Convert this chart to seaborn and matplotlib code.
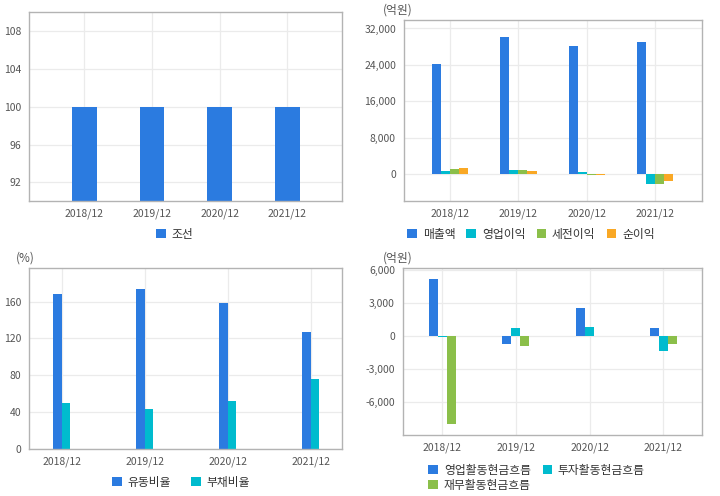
import pandas as pd
import seaborn as sns
import matplotlib.pyplot as plt
from matplotlib.ticker import FuncFormatter

# values
years = ["2018/12", "2019/12", "2020/12", "2021/12"]

industry = [100, 100, 100, 100]  # 조선

sales = [24200, 30100, 28100, 29000]        # 매출액
op_profit = [660, 880, 440, -2200]          # 영업이익
pretax_profit = [1100, 820, -120, -2200]    # 세전이익
net_profit = [1300, 600, -120, -1540]       # 순이익

current_ratio = [168, 174, 158, 127]        # 유동비율
debt_ratio = [50, 44, 52, 76]               # 부채비율

cf_operating = [5200, -730, 2570, 730]      # 영업활동현금흐름
cf_investing = [-100, 730, 820, -1360]      # 투자활동현금흐름
cf_financing = [-7950, -900, 0, -730]       # 재무활동현금흐름

BLUE = "#2b7be0"
TEAL = "#00bbce"
GREEN = "#8bbf4a"
ORANGE = "#f9a825"

sns.set_theme(style="whitegrid")
plt.rcParams["font.family"] = ["Noto Sans CJK KR", "DejaVu Sans"]
plt.rcParams["axes.unicode_minus"] = False


def long_form(series):
    rows = []
    for name, vals in series.items():
        for y, v in zip(years, vals):
            rows.append({"year": y, "series": name, "value": v})
    return pd.DataFrame(rows)


def add_axes(fig, x0, y0, x1, y1):
    # pixel box (top-left origin) -> figure fractions
    W, H = 720, 496
    return fig.add_axes([x0 / W, 1 - y1 / H, (x1 - x0) / W, (y1 - y0) / H])


def style(ax, yticks, ylim, xlim, comma=False):
    ax.set_ylim(*ylim)
    ax.set_xlim(*xlim)
    ax.set_yticks(yticks)
    ax.set_xlabel("")
    ax.set_ylabel("")
    ax.grid(True, color="#ebebeb", linewidth=0.9)
    ax.set_axisbelow(True)
    for sp in ax.spines.values():
        sp.set_color("#b3b3b3")
        sp.set_linewidth(1.0)
    ax.tick_params(axis="y", length=3, color="#b3b3b3", labelsize=7.5,
                   labelcolor="#555555", pad=3)
    ax.tick_params(axis="x", length=0, labelsize=7.5, labelcolor="#555555", pad=5)
    if comma:
        ax.yaxis.set_major_formatter(FuncFormatter(lambda v, p: f"{v:,.0f}"))


def legend(ax, anchor, ncol, colspace=1.2, order=None):
    handles, labels = ax.get_legend_handles_labels()
    if order is not None:
        handles = [handles[i] for i in order]
        labels = [labels[i] for i in order]
    leg = ax.legend(handles, labels, loc="upper left", bbox_to_anchor=anchor,
                    ncol=ncol, frameon=False, fontsize=8.5,
                    handlelength=0.8, handleheight=0.8, handletextpad=0.5,
                    columnspacing=colspace, labelspacing=0.2,
                    borderaxespad=0, borderpad=0)
    for t in leg.get_texts():
        t.set_color("#333333")


fig = plt.figure(figsize=(7.2, 4.96), dpi=100)

# top-left: industry
ax1 = add_axes(fig, 29.3, 12.3, 342.3, 201.3)
df1 = long_form({"조선": industry})
sns.barplot(data=df1, x="year", y="value", hue="series", palette=[BLUE],
            width=0.365, saturation=1, linewidth=0, ax=ax1, order=years)
style(ax1, [92, 96, 100, 104, 108], (90, 110), (-0.81, 3.81))
legend(ax1, (0.405, -0.14), 1)

# top-right: income
ax2 = add_axes(fig, 404.3, 20.3, 702.3, 201.3)
df2 = long_form({"매출액": sales, "영업이익": op_profit,
                 "세전이익": pretax_profit, "순이익": net_profit})
sns.barplot(data=df2, x="year", y="value", hue="series",
            palette=[BLUE, TEAL, GREEN, ORANGE], width=0.53, saturation=1,
            linewidth=0, ax=ax2, order=years)
style(ax2, [0, 8000, 16000, 24000, 32000], (-6000, 33800), (-0.67, 3.69), comma=True)
legend(ax2, (0.01, -0.145), 4, colspace=0.95)
fig.text(383 / 720, 1 - 10 / 496, "(억원)", fontsize=8.5, color="#555555",
         va="center", ha="left")

# bottom-left: ratios
ax3 = add_axes(fig, 29.3, 268.3, 342.3, 449.3)
df3 = long_form({"유동비율": current_ratio, "부채비율": debt_ratio})
sns.barplot(data=df3, x="year", y="value", hue="series", palette=[BLUE, TEAL],
            width=0.21, saturation=1, linewidth=0, ax=ax3, order=years)
style(ax3, [0, 40, 80, 120, 160], (0, 196), (-0.39, 3.38))
legend(ax3, (0.265, -0.145), 2, colspace=1.7)
fig.text(16 / 720, 1 - 258 / 496, "(%)", fontsize=8.5, color="#555555",
         va="center", ha="left")

# bottom-right: cash flow
ax4 = add_axes(fig, 403.3, 268.3, 702.3, 435.3)
df4 = long_form({"영업활동현금흐름": cf_operating, "투자활동현금흐름": cf_investing,
                 "재무활동현금흐름": cf_financing})
sns.barplot(data=df4, x="year", y="value", hue="series",
            palette=[BLUE, TEAL, GREEN], width=0.367, saturation=1,
            linewidth=0, ax=ax4, order=years)
style(ax4, [-6000, -3000, 0, 3000, 6000], (-9000, 6180), (-0.53, 3.53), comma=True)
legend(ax4, (0.084, -0.17), 2, colspace=1.0, order=[0, 2, 1])
fig.text(383 / 720, 1 - 258 / 496, "(억원)", fontsize=8.5, color="#555555",
         va="center", ha="left")

fig.savefig("out.png", dpi=100, facecolor="white")
